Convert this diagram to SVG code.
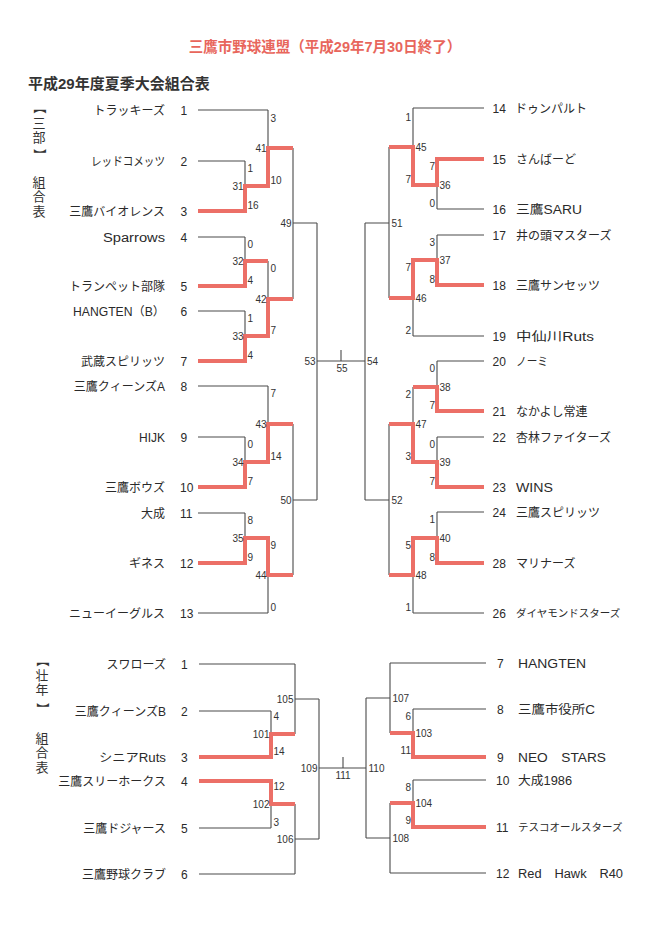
<svg xmlns="http://www.w3.org/2000/svg" width="653" height="945" viewBox="0 0 653 945">
<style>
text{font-family:"Liberation Sans","Noto Sans CJK JP",sans-serif;fill:#2a2a2a}
.title{font-size:14.5px;font-weight:bold;fill:#e8665c}
.sub{font-size:15px;font-weight:bold;fill:#333}
.side{font-size:13px;text-anchor:middle;fill:#333}
.nm{font-size:12px}
.nl{text-anchor:end}
.num{font-size:12px}
.sc{font-size:10px;fill:#333}
.e{text-anchor:end}
.m{text-anchor:middle}
.k{fill:none;stroke:#4a4a4a;stroke-width:1.1}
.r{fill:none;stroke:#ec6f67;stroke-width:4;stroke-linejoin:miter}
</style>
<rect width="653" height="945" fill="#fff"/>
<text class="title" x="325" y="52" text-anchor="middle">三鷹市野球連盟（平成29年7月30日終了）</text>
<text class="sub" x="28" y="89">平成29年度夏季大会組合表</text>
<g id="side-top">
<text class="side" transform="translate(34.5,107.5) rotate(90)">【</text>
<text class="side" x="39" y="128">三</text>
<text class="side" x="39" y="142">部</text>
<text class="side" transform="translate(34.5,155) rotate(90)">】</text>
<text class="side" x="39" y="187">組</text>
<text class="side" x="39" y="201">合</text>
<text class="side" x="39" y="216">表</text>
</g>
<g id="side-bottom">
<text class="side" transform="translate(37.5,660.5) rotate(90)">【</text>
<text class="side" x="42" y="680">壮</text>
<text class="side" x="42" y="694">年</text>
<text class="side" transform="translate(37.5,709) rotate(90)">】</text>
<text class="side" x="42" y="743">組</text>
<text class="side" x="42" y="757">合</text>
<text class="side" x="42" y="772">表</text>
</g>
<g id="connectors">
<path class="k" d="M198,110H268M198,161H245M198,211H245M245,161V211M245,186H268M268,110V186M268,148H293
M198,237H245M198,286H245M245,237V286M245,261H268M198,311H245M198,361H245M245,311V361M245,336H268M268,261V336M268,299H293
M293,148V299M293,223H317
M198,386H268M198,437H245M198,487H245M245,437V487M245,462H268M268,386V462M268,424H293
M198,513H245M198,563H245M245,513V563M245,538H268M198,613H268M268,538V613M268,575H293
M293,424V575M293,500H317M317,223V500M317,361H365M341,350V361M365,223V500
M413,108H484M437,159H484M437,209H484M437,159V209M413,185H437M413,108V185M389,147H413
M437,235H484M437,285H484M437,235V285M413,260H437M413,336H484M413,260V336M389,298H413
M389,147V298M365,223H389
M437,361H484M437,411H484M437,361V411M413,387H437M437,437H484M437,487H484M437,437V487M413,462H437M413,387V462M389,424H413
M437,512H484M437,563H484M437,512V563M413,538H437M413,613H484M413,538V613M389,575H413
M389,424V575M365,500H389
M199,664H295M199,711H271M199,757H271M271,711V757M271,734H295M295,664V734M295,699H319
M199,781H271M199,828H271M271,781V828M271,804H295M199,874H295M295,804V874M295,839H319
M319,699V839M319,768H366M343,757V768
M390,663H486M413,709H486M413,757H486M413,709V757M390,733H413M390,663V733M366,698H390
M413,780H486M413,827H486M413,780V827M390,803H413M390,873H486M390,803V873M366,838H390M366,698V838"/>
<path class="r" d="M198,211H245V186H268V148H293"/>
<path class="r" d="M198,286H245V261H268"/>
<path class="r" d="M198,361H245V336H268V299H293"/>
<path class="r" d="M198,487H245V462H268V424H293"/>
<path class="r" d="M198,563H245V538H268V575H293"/>
<path class="r" d="M484,159H437V185H413V147H389"/>
<path class="r" d="M484,285H437V260H413V298H389"/>
<path class="r" d="M484,411H437V387H413"/>
<path class="r" d="M484,487H437V462H413V424H389"/>
<path class="r" d="M484,563H437V538H413V575H389"/>
<path class="r" d="M199,757H271V734H295"/>
<path class="r" d="M199,781H271V804H295"/>
<path class="r" d="M486,757H413V733H390"/>
<path class="r" d="M486,827H413V803H390"/>
</g>
<g id="scores">
<text class="sc" x="247.5" y="172">1</text><text class="sc" x="247.5" y="209">16</text><text class="sc e" x="243.5" y="190">31</text>
<text class="sc" x="270.5" y="122">3</text><text class="sc" x="270.5" y="184">10</text><text class="sc e" x="266.5" y="152">41</text>
<text class="sc" x="247.5" y="248">0</text><text class="sc" x="247.5" y="284">4</text><text class="sc e" x="243.5" y="265">32</text>
<text class="sc" x="247.5" y="322">1</text><text class="sc" x="247.5" y="359">4</text><text class="sc e" x="243.5" y="340">33</text>
<text class="sc" x="270.5" y="272">0</text><text class="sc" x="270.5" y="334">7</text><text class="sc e" x="266.5" y="303">42</text>
<text class="sc" x="247.5" y="448">0</text><text class="sc" x="247.5" y="485">7</text><text class="sc e" x="243.5" y="466">34</text>
<text class="sc" x="270.5" y="397">7</text><text class="sc" x="270.5" y="460">14</text><text class="sc e" x="266.5" y="428">43</text>
<text class="sc" x="247.5" y="524">8</text><text class="sc" x="247.5" y="561">9</text><text class="sc e" x="243.5" y="542">35</text>
<text class="sc" x="270.5" y="549">9</text><text class="sc" x="270.5" y="611">0</text><text class="sc e" x="266.5" y="579">44</text>
<text class="sc e" x="291.5" y="227">49</text>
<text class="sc e" x="291.5" y="504">50</text>
<text class="sc e" x="315.5" y="365">53</text>
<text class="sc" x="367" y="365">54</text>
<text class="sc m" x="342" y="372">55</text>
<text class="sc e" x="435" y="170">7</text><text class="sc e" x="435" y="207">0</text><text class="sc" x="439.5" y="189">36</text>
<text class="sc e" x="411" y="121">1</text><text class="sc e" x="411" y="183">7</text><text class="sc" x="415.5" y="151">45</text>
<text class="sc e" x="435" y="246">3</text><text class="sc e" x="435" y="283">8</text><text class="sc" x="439.5" y="264">37</text>
<text class="sc e" x="411" y="271">7</text><text class="sc e" x="411" y="334">2</text><text class="sc" x="415.5" y="302">46</text>
<text class="sc e" x="435" y="372">0</text><text class="sc e" x="435" y="409">7</text><text class="sc" x="439.5" y="391">38</text>
<text class="sc e" x="435" y="448">0</text><text class="sc e" x="435" y="485">7</text><text class="sc" x="439.5" y="466">39</text>
<text class="sc e" x="411" y="398">2</text><text class="sc e" x="411" y="460">3</text><text class="sc" x="415.5" y="428">47</text>
<text class="sc e" x="435" y="523">1</text><text class="sc e" x="435" y="561">8</text><text class="sc" x="439.5" y="542">40</text>
<text class="sc e" x="411" y="549">5</text><text class="sc e" x="411" y="611">1</text><text class="sc" x="415.5" y="579">48</text>
<text class="sc" x="391.5" y="227">51</text>
<text class="sc" x="391.5" y="504">52</text>
<text class="sc" x="273.5" y="720">4</text><text class="sc" x="273.5" y="755">14</text><text class="sc e" x="269.5" y="738">101</text>
<text class="sc" x="273.5" y="790">12</text><text class="sc" x="273.5" y="826">3</text><text class="sc e" x="269.5" y="808">102</text>
<text class="sc e" x="293.5" y="703">105</text>
<text class="sc e" x="293.5" y="843">106</text>
<text class="sc e" x="317.5" y="772">109</text>
<text class="sc m" x="343" y="779">111</text>
<text class="sc e" x="411" y="720">6</text><text class="sc e" x="411" y="754">11</text><text class="sc" x="415.5" y="737">103</text>
<text class="sc e" x="411" y="791">8</text><text class="sc e" x="411" y="824">9</text><text class="sc" x="415.5" y="807">104</text>
<text class="sc" x="392.5" y="702">107</text>
<text class="sc" x="392.5" y="842">108</text>
<text class="sc" x="368.5" y="772">110</text>
</g>
<g id="team-L1"><text class="nm nl" x="165" y="114.5">トラッキーズ</text><text class="num" x="180.5" y="114.5">1</text></g>
<g id="team-L2"><text class="nm nl" x="165" y="165.5" textLength="74" lengthAdjust="spacingAndGlyphs">レッドコメッツ</text><text class="num" x="180.5" y="165.5">2</text></g>
<g id="team-L3"><text class="nm nl" x="165" y="215.5">三鷹バイオレンス</text><text class="num" x="180.5" y="215.5">3</text></g>
<g id="team-L4"><text class="nm nl" x="165" y="241.5" textLength="62" lengthAdjust="spacingAndGlyphs">Sparrows</text><text class="num" x="180.5" y="241.5">4</text></g>
<g id="team-L5"><text class="nm nl" x="165" y="290.5">トランペット部隊</text><text class="num" x="180.5" y="290.5">5</text></g>
<g id="team-L6"><text class="nm nl" x="165" y="315.5" textLength="92" lengthAdjust="spacingAndGlyphs">HANGTEN（B）</text><text class="num" x="180.5" y="315.5">6</text></g>
<g id="team-L7"><text class="nm nl" x="165" y="365.5">武蔵スピリッツ</text><text class="num" x="180.5" y="365.5">7</text></g>
<g id="team-L8"><text class="nm nl" x="165" y="390.5">三鷹クィーンズA</text><text class="num" x="180.5" y="390.5">8</text></g>
<g id="team-L9"><text class="nm nl" x="165" y="441.5">HIJK</text><text class="num" x="180.5" y="441.5">9</text></g>
<g id="team-L10"><text class="nm nl" x="165" y="491.5">三鷹ボウズ</text><text class="num" x="180" y="491.5">10</text></g>
<g id="team-L11"><text class="nm nl" x="165" y="517.5">大成</text><text class="num" x="180" y="517.5">11</text></g>
<g id="team-L12"><text class="nm nl" x="165" y="567.5">ギネス</text><text class="num" x="180" y="567.5">12</text></g>
<g id="team-L13"><text class="nm nl" x="165" y="617.5">ニューイーグルス</text><text class="num" x="180" y="617.5">13</text></g>
<g id="team-R14"><text class="num" x="492.5" y="112.5">14</text><text class="nm" x="515" y="112.5">ドゥンパルト</text></g>
<g id="team-R15"><text class="num" x="492.5" y="163.5">15</text><text class="nm" x="516" y="163.5">さんばーど</text></g>
<g id="team-R16"><text class="num" x="492.5" y="213.5">16</text><text class="nm" x="516" y="213.5" textLength="66" lengthAdjust="spacingAndGlyphs">三鷹SARU</text></g>
<g id="team-R17"><text class="num" x="492.5" y="239.5">17</text><text class="nm" x="516" y="239.5">井の頭マスターズ</text></g>
<g id="team-R18"><text class="num" x="492.5" y="289.5">18</text><text class="nm" x="516" y="289.5">三鷹サンセッツ</text></g>
<g id="team-R19"><text class="num" x="492.5" y="340.5">19</text><text class="nm" x="516" y="340.5" textLength="78" lengthAdjust="spacingAndGlyphs">中仙川Ruts</text></g>
<g id="team-R20"><text class="num" x="492.5" y="365.5">20</text><text class="nm" x="516" y="365.5" textLength="32" lengthAdjust="spacingAndGlyphs">ノーミ</text></g>
<g id="team-R21"><text class="num" x="492.5" y="415.5">21</text><text class="nm" x="516" y="415.5">なかよし常連</text></g>
<g id="team-R22"><text class="num" x="492.5" y="441.5">22</text><text class="nm" x="516" y="441.5">杏林ファイターズ</text></g>
<g id="team-R23"><text class="num" x="492.5" y="491.5">23</text><text class="nm" x="516" y="491.5" textLength="37" lengthAdjust="spacingAndGlyphs">WINS</text></g>
<g id="team-R24"><text class="num" x="492.5" y="516.5">24</text><text class="nm" x="516" y="516.5">三鷹スピリッツ</text></g>
<g id="team-R28"><text class="num" x="492.5" y="567.5">28</text><text class="nm" x="516" y="567.5">マリナーズ</text></g>
<g id="team-R26"><text class="num" x="492.5" y="617.5">26</text><text class="nm" x="516" y="617" style="font-size:10.5px">ダイヤモンドスターズ</text></g>
<g id="team-BL1"><text class="nm nl" x="166" y="668.5">スワローズ</text><text class="num" x="181" y="668.5">1</text></g>
<g id="team-BL2"><text class="nm nl" x="166" y="715.5">三鷹クィーンズB</text><text class="num" x="181" y="715.5">2</text></g>
<g id="team-BL3"><text class="nm nl" x="166" y="761.5" textLength="67" lengthAdjust="spacingAndGlyphs">シニアRuts</text><text class="num" x="181" y="761.5">3</text></g>
<g id="team-BL4"><text class="nm nl" x="166" y="785.5">三鷹スリーホークス</text><text class="num" x="181" y="785.5">4</text></g>
<g id="team-BL5"><text class="nm nl" x="166" y="832.5">三鷹ドジャース</text><text class="num" x="181" y="832.5">5</text></g>
<g id="team-BL6"><text class="nm nl" x="166" y="878.5">三鷹野球クラブ</text><text class="num" x="181" y="878.5">6</text></g>
<g id="team-BR7"><text class="num" x="497" y="667.5">7</text><text class="nm" x="518" y="667.5" textLength="68" lengthAdjust="spacingAndGlyphs">HANGTEN</text></g>
<g id="team-BR8"><text class="num" x="497" y="713.5">8</text><text class="nm" x="518" y="713.5" textLength="77" lengthAdjust="spacingAndGlyphs">三鷹市役所C</text></g>
<g id="team-BR9"><text class="num" x="497" y="761.5">9</text><text class="nm" x="518" y="761.5" textLength="88" lengthAdjust="spacingAndGlyphs">NEO　STARS</text></g>
<g id="team-BR10"><text class="num" x="496" y="784.5">10</text><text class="nm" x="518" y="784.5" textLength="54" lengthAdjust="spacingAndGlyphs">大成1986</text></g>
<g id="team-BR11"><text class="num" x="496" y="831.5">11</text><text class="nm" x="518" y="831" style="font-size:10.5px">テスコオールスターズ</text></g>
<g id="team-BR12"><text class="num" x="496" y="877.5">12</text><text class="nm" x="518" y="877.5" textLength="105" lengthAdjust="spacingAndGlyphs">Red　Hawk　R40</text></g>
</svg>
